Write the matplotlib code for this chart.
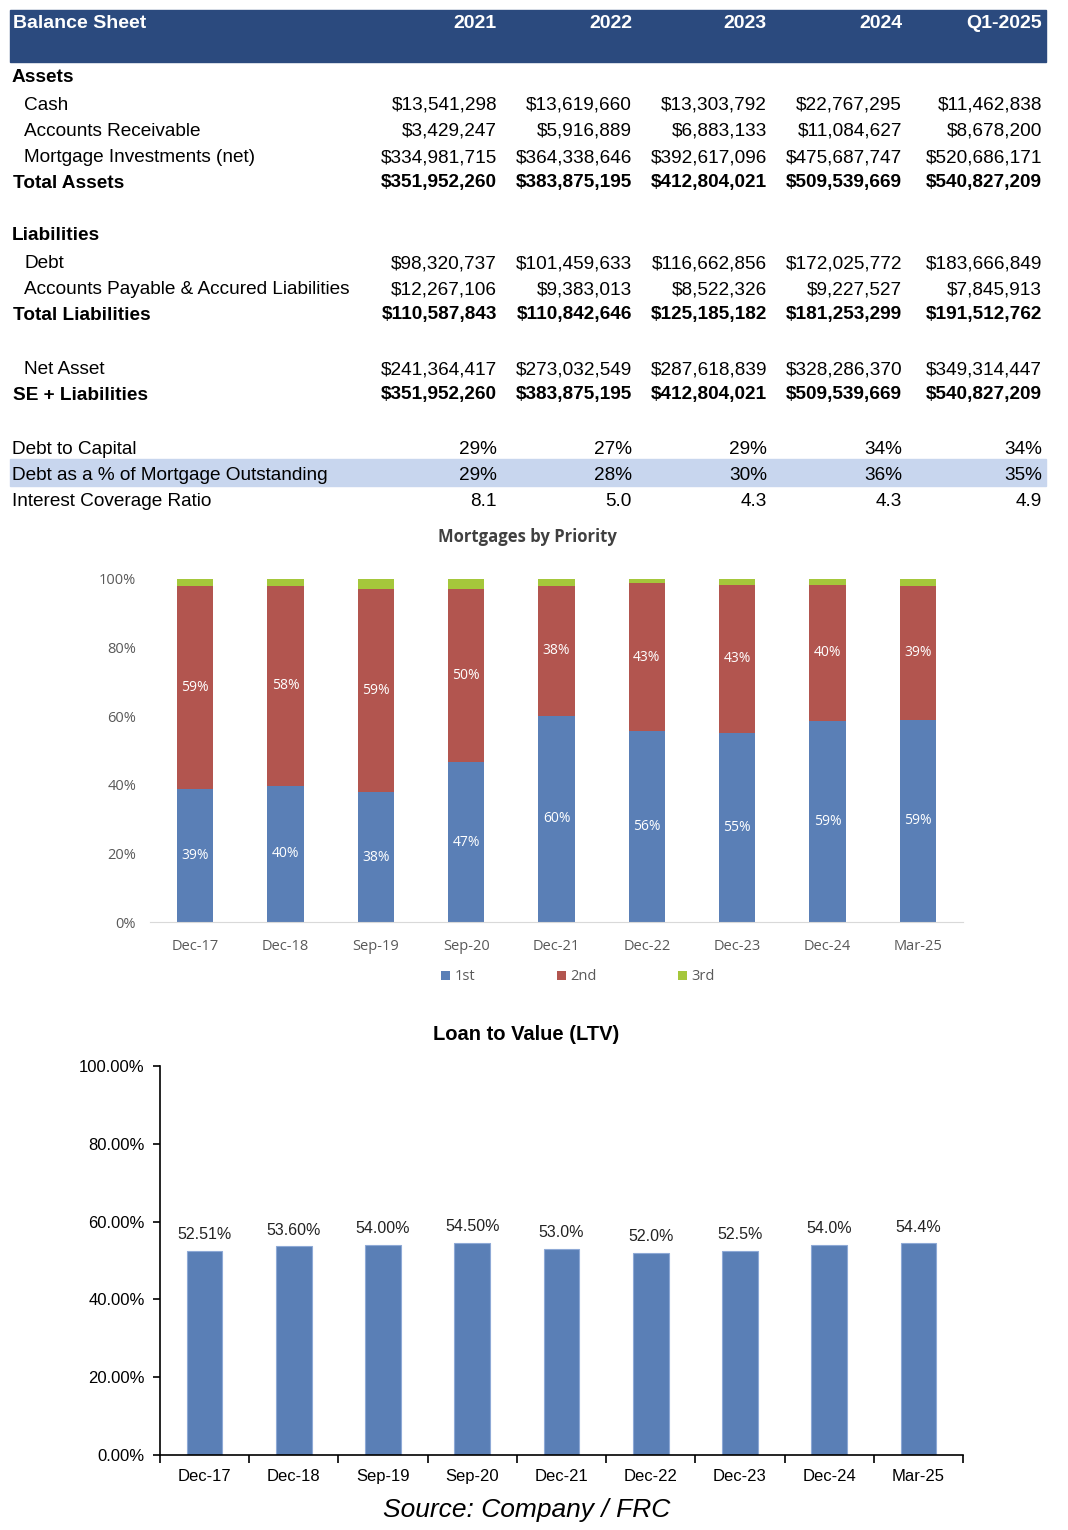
import matplotlib
matplotlib.use("Agg")
import matplotlib.pyplot as plt
import numpy as np

W, H = 1068, 1530

# ---- balance sheet table ----
years = ["2021", "2022", "2023", "2024", "Q1-2025"]
cash = ["$13,541,298", "$13,619,660", "$13,303,792", "$22,767,295", "$11,462,838"]
receivable = ["$3,429,247", "$5,916,889", "$6,883,133", "$11,084,627", "$8,678,200"]
mortgage_inv = ["$334,981,715", "$364,338,646", "$392,617,096", "$475,687,747", "$520,686,171"]
total_assets = ["$351,952,260", "$383,875,195", "$412,804,021", "$509,539,669", "$540,827,209"]
debt = ["$98,320,737", "$101,459,633", "$116,662,856", "$172,025,772", "$183,666,849"]
payables = ["$12,267,106", "$9,383,013", "$8,522,326", "$9,227,527", "$7,845,913"]
total_liab = ["$110,587,843", "$110,842,646", "$125,185,182", "$181,253,299", "$191,512,762"]
net_asset = ["$241,364,417", "$273,032,549", "$287,618,839", "$328,286,370", "$349,314,447"]
se_liab = ["$351,952,260", "$383,875,195", "$412,804,021", "$509,539,669", "$540,827,209"]
debt_to_cap = ["29%", "27%", "29%", "34%", "34%"]
debt_pct_mort = ["29%", "28%", "30%", "36%", "35%"]
int_cov = ["8.1", "5.0", "4.3", "4.3", "4.9"]

# ---- mortgages by priority ----
periods = ["Dec-17", "Dec-18", "Sep-19", "Sep-20", "Dec-21", "Dec-22", "Dec-23", "Dec-24", "Mar-25"]
first = [38.8, 39.7, 37.9, 46.6, 60.1, 55.7, 55.1, 58.6, 58.9]
second = [59.2, 58.3, 59.2, 50.5, 37.9, 43.1, 43.2, 39.7, 39.1]
third = [2.0, 2.0, 2.9, 2.9, 2.0, 1.2, 1.7, 1.7, 2.0]

# ---- loan to value ----
ltv = [52.51, 53.60, 54.00, 54.50, 53.0, 52.0, 52.5, 54.0, 54.4]
ltv_labels = ["52.51%", "53.60%", "54.00%", "54.50%", "53.0%", "52.0%", "52.5%", "54.0%", "54.4%"]

BLUE = "#5A7FB6"
RED = "#B2554F"
GREEN = "#A5C73B"
FONT = "Liberation Sans"

fig = plt.figure(figsize=(W / 100, H / 100), dpi=100)


def fx(x):
    return x / W


def fy(y):
    return 1 - y / H


def txt(x, y, s, ha="left", bold=False, color="black", size=13.7, **kw):
    fig.text(fx(x), fy(y + 2), s, ha=ha, va="center", family=FONT,
             fontweight="bold" if bold else "normal", color=color, fontsize=size, **kw)


# header band
fig.patches.append(plt.Rectangle((fx(10), fy(62)), fx(1036), 52 / H,
                                 transform=fig.transFigure, color="#2B4A7E", zorder=0))
# highlighted row
fig.patches.append(plt.Rectangle((fx(10), fy(486)), fx(1036), 27 / H,
                                 transform=fig.transFigure, color="#C8D6EE", zorder=0))

col_x = [497, 632, 767, 902, 1042]
txt(13, 21, "Balance Sheet", bold=True, color="white", size=14)
for x, yr in zip(col_x, years):
    txt(x, 21, yr, ha="right", bold=True, color="white", size=14)

rows = [
    (75, "Assets", 12, True, None),
    (103, "Cash", 24, False, cash),
    (129, "Accounts Receivable", 24, False, receivable),
    (156, "Mortgage Investments (net)", 24, False, mortgage_inv),
    (181, "Total Assets", 13, True, total_assets),
    (234, "Liabilities", 12, True, None),
    (262, "Debt", 24, False, debt),
    (288, "Accounts Payable & Accured Liabilities", 24, False, payables),
    (313, "Total Liabilities", 13, True, total_liab),
    (368, "Net Asset", 24, False, net_asset),
    (393, "SE + Liabilities", 13, True, se_liab),
    (447, "Debt to Capital", 12, False, debt_to_cap),
    (473, "Debt as a % of Mortgage Outstanding", 12, False, debt_pct_mort),
    (500, "Interest Coverage Ratio", 12, False, int_cov),
]
for y, label, x0, bold, vals in rows:
    txt(x0, y, label, bold=bold)
    if vals:
        for x, v in zip(col_x, vals):
            txt(x, y, v, ha="right", bold=bold)

# ---- chart 1: mortgages by priority ----
ax1 = fig.add_axes([fx(150), fy(922), 813 / W, 343 / H])
x = np.arange(len(periods))
f = np.array(first) / 100
s = np.array(second) / 100
t = np.array(third) / 100
ax1.bar(x, f, 0.4, color=BLUE, label="1st")
ax1.bar(x, s, 0.4, bottom=f, color=RED, label="2nd")
ax1.bar(x, t, 0.4, bottom=f + s, color=GREEN, label="3rd")
for i in range(len(periods)):
    ax1.text(x[i], f[i] / 2, f"{first[i]:.0f}%", ha="center", va="center",
             color="white", fontsize=10, family="Open Sans")
    ax1.text(x[i], f[i] + s[i] / 2, f"{second[i]:.0f}%", ha="center", va="center",
             color="white", fontsize=10, family="Open Sans")
ax1.set_xlim(-0.5, len(periods) - 0.5)
ax1.set_ylim(0, 1)
ax1.set_yticks(np.arange(0, 1.01, 0.2))
ax1.set_yticklabels([f"{v}%" for v in range(0, 101, 20)])
ax1.set_xticks(x)
ax1.set_xticklabels(periods)
for sp in ["top", "right", "left"]:
    ax1.spines[sp].set_visible(False)
ax1.spines["bottom"].set_color("#D9D9D9")
ax1.tick_params(length=0, colors="#595959", labelsize=10.5)
ax1.tick_params(axis="x", pad=12)
ax1.tick_params(axis="y", pad=10)
for lab in ax1.get_xticklabels() + ax1.get_yticklabels():
    lab.set_family("Open Sans")
fig.text(fx(527), fy(537), "Mortgages by Priority", ha="center", va="center",
         fontsize=12, fontweight="bold", color="#404040", family="Open Sans")
ax1.legend(loc="center", bbox_to_anchor=(fx(578), fy(977)), bbox_transform=fig.transFigure,
           ncol=3, frameon=False, handlelength=0.6, handleheight=0.6, handletextpad=0.3,
           columnspacing=5.6, prop={"family": "Open Sans", "size": 10.5}, labelcolor="#595959")

# ---- chart 2: loan to value ----
ax2 = fig.add_axes([fx(160), fy(1455), 803 / W, 389 / H])
ax2.bar(x, ltv, 0.4, color=BLUE, edgecolor="#8EA9D6", linewidth=0.8)
for i in range(len(periods)):
    ax2.text(x[i], ltv[i] + 2.2, ltv_labels[i], ha="center", va="bottom",
             fontsize=11.5, family=FONT, color="#222222")
ax2.set_xlim(-0.5, len(periods) - 0.5)
ax2.set_ylim(0, 100)
ax2.set_yticks(np.arange(0, 101, 20))
ax2.set_yticklabels([f"{v:.2f}%" for v in range(0, 101, 20)])
ax2.set_xticks(x)
ax2.set_xticklabels(periods)
ax2.set_xticks(np.arange(-0.5, len(periods)), minor=True)
ax2.tick_params(axis="x", which="major", length=0, pad=10)
ax2.tick_params(axis="x", which="minor", length=6, direction="out", width=1.2)
ax2.tick_params(axis="y", length=5, width=1.2, pad=6)
ax2.tick_params(labelsize=12)
for lab in ax2.get_xticklabels() + ax2.get_yticklabels():
    lab.set_family(FONT)
for sp in ["top", "right"]:
    ax2.spines[sp].set_visible(False)
for sp in ["left", "bottom"]:
    ax2.spines[sp].set_linewidth(1.2)
fig.text(fx(526), fy(1035), "Loan to Value (LTV)", ha="center", va="center",
         fontsize=14.5, fontweight="bold", family=FONT)

fig.text(fx(527), fy(1510), "Source: Company / FRC", ha="center", va="center",
         fontsize=19, style="italic", family=FONT)

fig.savefig("out.png", dpi=100)
